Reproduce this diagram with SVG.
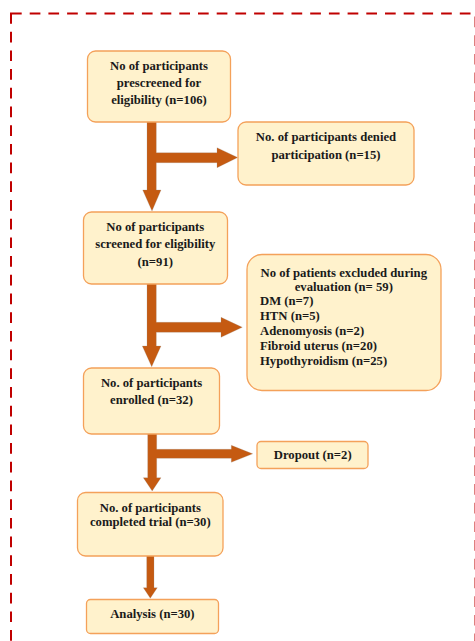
<svg xmlns="http://www.w3.org/2000/svg" width="475" height="641" viewBox="0 0 475 641">
<style>
.box{fill:#FFF2CC;stroke:#F4A15A;stroke-width:1.3}
.t{font-family:"Liberation Serif","Times New Roman",serif;font-weight:bold;font-size:12.7px;fill:#1a1a1a;text-anchor:middle}
.l{text-anchor:start}
.arr{fill:#C55A11;stroke:#9a8f8a;stroke-width:0.4;stroke-opacity:0.6}
</style>
<rect x="11" y="13.5" width="464.5" height="700" fill="none" stroke="#C00000" stroke-width="2" stroke-dasharray="10.7 8"/>
<g id="connectors">
<path class="arr" d="M147,122 H156.3 V152.7 H217 V147.7 L237.7,157.5 L217,167.7 V162.7 H156.3 V190 H161 L152,211 L142.7,190 H147 Z"/>
<path class="arr" d="M147,284 H156.3 V322.3 H221 V317.3 L242.3,327.3 L221,337.3 V332.3 H156.3 V346 H161 L151.7,366.7 L142.3,346 H147 Z"/>
<path class="arr" d="M147.7,434 H156.7 V449.3 H231.3 V445.3 L252.7,453.8 L231.3,462.3 V458.3 H156.7 V477.7 H161 L152.2,491 L143.3,477.7 H147.7 Z"/>
<path class="arr" d="M146.7,556 H154 V587.7 H157.3 L150.3,598.3 L143.3,587.7 H146.7 Z"/>
</g>
<g id="prescreened">
<rect class="box" x="87.5" y="51" width="143" height="71" rx="8"/>
<text class="t" x="159" y="69.5">No of participants</text>
<text class="t" x="159" y="86.5">prescreened for</text>
<text class="t" x="159" y="103.5">eligibility (n=106)</text>
</g>
<g id="denied">
<rect class="box" x="238" y="122" width="176" height="63" rx="8"/>
<text class="t" x="326" y="140.5">No. of participants denied</text>
<text class="t" x="326" y="158.5">participation (n=15)</text>
</g>
<g id="screened">
<rect class="box" x="83.5" y="212" width="144" height="72" rx="8"/>
<text class="t" x="155.3" y="231">No of participants</text>
<text class="t" x="155.3" y="248">screened for eligibility</text>
<text class="t" x="155.3" y="265.5">(n=91)</text>
</g>
<g id="excluded">
<rect class="box" x="247" y="254.5" width="194" height="136" rx="15"/>
<text class="t" x="343.8" y="276.5">No of patients excluded during</text>
<text class="t" x="343.8" y="290.5">evaluation (n= 59)</text>
<text class="t l" x="260" y="304.5">DM (n=7)</text>
<text class="t l" x="260" y="320">HTN (n=5)</text>
<text class="t l" x="260" y="335">Adenomyosis (n=2)</text>
<text class="t l" x="260" y="350">Fibroid uterus (n=20)</text>
<text class="t l" x="260" y="364.5">Hypothyroidism (n=25)</text>
</g>
<g id="enrolled">
<rect class="box" x="83.5" y="368" width="136" height="66" rx="8"/>
<text class="t" x="151.5" y="386.5">No. of participants</text>
<text class="t" x="151.5" y="404">enrolled (n=32)</text>
</g>
<g id="dropout">
<rect class="box" x="257" y="441.5" width="111" height="27" rx="4"/>
<text class="t" x="312.7" y="458.5">Dropout (n=2)</text>
</g>
<g id="completed">
<rect class="box" x="77.5" y="492.5" width="145.5" height="63.5" rx="8"/>
<text class="t" x="150.3" y="511.5">No. of participants</text>
<text class="t" x="150.3" y="525.5">completed trial (n=30)</text>
</g>
<g id="analysis">
<rect class="box" x="86.5" y="599.5" width="132" height="34" rx="4"/>
<text class="t" x="152.4" y="617.8">Analysis (n=30)</text>
</g>
</svg>
